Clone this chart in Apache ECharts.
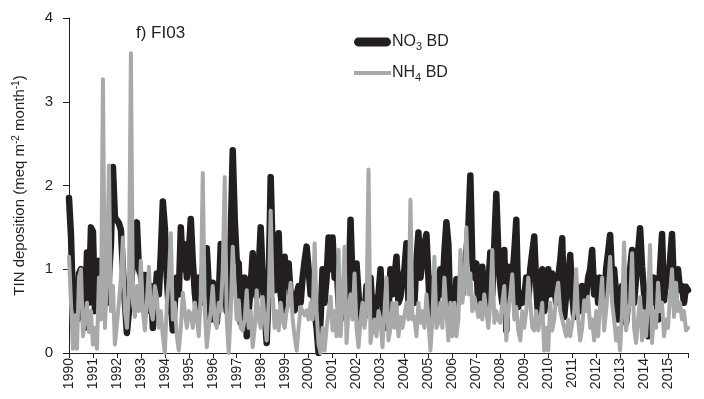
<!DOCTYPE html>
<html>
<head>
<meta charset="utf-8">
<script src="https://cdn.jsdelivr.net/npm/echarts@6/dist/echarts.min.js"></script>
<style>
  html, body { margin: 0; padding: 0; background: #fff; }
  #chart { width: 704px; height: 399px; }
</style>
</head>
<body>
<div id="chart"></div>
<script>
// Monthly TIN bulk deposition at FI03, Jan 1990 – Nov 2015 (meq m-2 month-1)
const startYear = 1990;
const yearLabels = ['1990','1991','1992','1993','1994','1995','1996','1997','1998','1999','2000','2001','2002',
  '2003','2004','2005','2006','2007','2008','2009','2010','2011','2012','2013','2014','2015'];

const no3BD = [
  1.85, 1.4, 0.55, 0.8, 0.4, 0.95, 1.0, 0.45, 0.3, 1.2, 0.6, 1.5,      // 1990
  1.45, 0.5, 0.6, 1.1, 0.5, 0.8, 1.3, 0.6, 0.9, 1.3, 2.22, 1.62,       // 1991
  1.6, 1.55, 1.47, 1.0, 0.6, 0.24, 0.5, 0.8, 1.1, 1.4, 1.56, 1.0,      // 1992
  0.93, 0.6, 0.93, 0.5, 0.6, 0.8, 0.3, 0.6, 0.95, 0.7, 1.2, 1.81,      // 1993
  1.5, 0.9, 0.5, 0.6, 0.27, 0.6, 0.9, 0.7, 1.5, 1.0, 1.3, 0.9,         // 1994
  1.2, 1.6, 1.1, 0.72, 0.5, 0.9, 0.6, 1.0, 0.7, 1.25, 0.8, 0.4,        // 1995
  0.84, 0.5, 0.36, 0.67, 1.3, 0.6, 0.8, 0.5, 1.0, 1.4, 2.42, 1.6,      // 1996
  1.1, 1.07, 0.36, 0.6, 0.9, 0.2, 0.5, 0.8, 1.19, 0.8, 0.67, 1.0,      // 1997
  1.5, 0.9, 0.5, 0.12, 0.8, 2.1, 1.2, 0.75, 1.0, 1.43, 0.7, 0.5,       // 1998
  1.15, 0.8, 1.07, 0.7, 0.6, 0.51, 0.7, 0.8, 0.6, 0.9, 1.1, 1.27,      // 1999
  1.0, 0.7, 0.84, 0.5, 0.3, 0.0, 0.4, 1.0, 0.6, 0.9, 1.38, 1.0,        // 2000
  1.38, 0.9, 1.07, 0.6, 0.4, 0.8, 0.6, 1.0, 0.7, 1.59, 0.84, 0.6,      // 2001
  1.07, 0.7, 0.36, 0.5, 0.43, 0.8, 0.6, 0.9, 0.5, 0.27, 0.6, 0.7,      // 2002
  1.0, 0.6, 0.3, 0.8, 0.5, 1.0, 0.7, 0.9, 1.15, 0.6, 0.67, 0.9,        // 2003
  1.0, 1.31, 0.6, 0.7, 1.0, 0.6, 1.1, 1.44, 0.9, 1.1, 1.3, 1.42,       // 2004
  0.9, 0.36, 0.6, 0.9, 0.5, 0.84, 1.0, 0.7, 1.2, 1.56, 1.3, 0.43,      // 2005
  0.6, 0.4, 0.88, 0.6, 0.9, 0.7, 1.0, 1.2, 1.5, 2.12, 1.07, 0.9,       // 2006
  1.07, 0.55, 0.7, 1.03, 0.6, 0.51, 0.8, 1.2, 0.7, 1.3, 1.9, 1.2,      // 2007
  0.8, 0.6, 1.23, 0.27, 1.03, 0.7, 0.9, 1.2, 1.59, 0.55, 0.72, 0.6,    // 2008
  0.67, 0.9, 0.6, 1.0, 1.2, 1.39, 0.8, 0.4, 0.9, 1.0, 0.5, 0.7,        // 2009
  1.0, 0.7, 0.95, 0.8, 0.6, 0.9, 1.1, 1.37, 0.43, 0.7, 0.9, 1.17,      // 2010
  0.7, 0.43, 0.8, 0.6, 0.5, 0.8, 0.7, 0.67, 0.9, 1.0, 1.23, 0.7,       // 2011
  0.9, 0.6, 0.9, 0.8, 0.5, 1.0, 1.2, 1.41, 0.9, 1.0, 0.7, 0.4,         // 2012
  0.6, 0.8, 0.8, 0.36, 0.6, 1.0, 1.23, 0.6, 0.9, 1.2, 1.49, 1.03,      // 2013
  0.72, 0.5, 0.2, 0.7, 0.6, 0.9, 0.7, 0.4, 1.0, 1.42, 0.63, 0.9,       // 2014
  0.8, 1.1, 1.42, 0.75, 0.9, 1.0, 0.75, 0.8, 0.6, 0.79, 0.75           // 2015
];

const nh4BD = [
  1.15, 0.6, 0.05, 0.45, 0.05, 0.9, 1.0, 0.2, 0.4, 0.6, 0.25, 0.5,     // 1990
  0.1, 0.3, 0.05, 0.9, 0.4, 3.27, 0.3, 0.9, 2.24, 0.5, 0.8, 0.1,       // 1991
  0.1, 0.6, 0.9, 1.38, 0.5, 0.3, 0.7, 3.58, 0.6, 0.43, 0.8, 0.5,       // 1992
  1.1, 0.5, 0.27, 0.6, 1.03, 0.5, 0.4, 0.8, 0.67, 0.3, 0.5, 0.2,       // 1993
  0.0, 0.6, 0.9, 1.43, 0.4, 0.6, 0.2, 0.03, 0.3, 0.72, 0.5, 0.3,       // 1994
  0.5, 0.47, 0.3, 0.6, 0.43, 0.2, 0.7, 2.15, 0.5, 0.07, 0.3, 0.5,      // 1995
  0.8, 0.4, 0.3, 0.6, 0.5, 1.0, 2.1, 0.4, 0.0, 0.5, 1.27, 0.8,         // 1996
  0.4, 0.63, 0.3, 0.27, 0.4, 0.75, 0.3, 0.5, 0.07, 0.3, 0.75, 0.4,     // 1997
  0.3, 0.67, 0.4, 0.15, 0.6, 1.7, 0.7, 0.3, 0.5, 0.27, 0.6, 0.4,       // 1998
  0.3, 0.5, 0.6, 0.84, 0.4, 0.2, 0.03, 0.3, 0.55, 0.5, 0.45, 0.51,     // 1999
  0.4, 0.6, 0.4, 1.31, 0.5, 0.1, 0.0, 0.3, 0.03, 0.3, 0.5, 0.67,       // 2000
  0.27, 0.5, 0.2, 1.23, 0.2, 0.6, 1.27, 0.12, 0.5, 0.7, 0.4, 0.95,     // 2001
  0.3, 0.07, 0.4, 0.6, 0.3, 0.5, 2.19, 0.12, 0.3, 0.4, 0.2, 0.5,       // 2002
  0.4, 0.07, 0.5, 0.9, 0.15, 0.3, 0.6, 0.3, 0.6, 0.2, 0.43, 0.3,       // 2003
  0.3, 0.6, 0.4, 1.83, 0.4, 0.43, 0.2, 0.6, 0.36, 0.5, 0.3, 0.7,       // 2004
  0.4, 0.03, 0.4, 1.15, 0.3, 0.36, 0.6, 0.3, 0.9, 0.5, 0.15, 0.6,      // 2005
  0.2, 0.6, 0.2, 0.4, 1.23, 0.6, 0.8, 1.5, 0.7, 0.95, 0.5, 0.67,       // 2006
  0.67, 0.43, 0.6, 0.4, 0.7, 0.5, 0.3, 0.6, 1.23, 0.36, 0.5, 0.4,      // 2007
  0.36, 0.6, 0.8, 0.15, 0.5, 0.7, 0.94, 0.4, 0.55, 0.27, 0.15, 0.5,    // 2008
  0.3, 0.5, 0.9, 0.6, 0.3, 0.27, 0.5, 0.27, 0.4, 0.6, 0.03, 0.3,       // 2009
  0.03, 0.6, 0.27, 0.4, 0.7, 0.84, 0.5, 0.51, 0.3, 0.2, 0.4, 0.2,      // 2010
  0.2, 0.5, 1.0, 0.4, 0.15, 0.3, 0.63, 0.5, 0.67, 0.3, 0.4, 0.15,      // 2011
  0.5, 0.2, 0.6, 0.9, 0.27, 0.5, 0.8, 1.15, 0.6, 0.4, 0.15, 0.3,       // 2012
  0.03, 0.5, 1.32, 0.27, 0.5, 0.6, 1.19, 0.3, 0.12, 0.4, 0.67, 0.15,   // 2013
  0.5, 0.2, 0.6, 1.29, 0.12, 0.5, 0.3, 0.84, 0.5, 0.6, 0.2, 0.4,       // 2014
  0.3, 0.7, 1.0, 0.43, 0.84, 0.5, 0.6, 0.4, 0.5, 0.27, 0.3             // 2015
];

const yTicks = [0, 1, 2, 3, 4];

// one category per month, labelled by year at each January
const months = no3BD.map((_, i) => {
  const y = startYear + Math.floor(i / 12);
  const m = (i % 12) + 1;
  return y + '-' + (m < 10 ? '0' + m : m);
});
const lastMonth = months.length - 1;

const ink = '#231f20';
const font = 'Liberation Sans, Arial, sans-serif';

const chart = echarts.init(document.getElementById('chart'), null, { renderer: 'canvas' });
chart.setOption({
  animation: false,
  backgroundColor: '#ffffff',
  title: {
    text: 'f) FI03',
    left: 136, top: 25, padding: 0,
    textStyle: { fontFamily: font, fontSize: 17, fontWeight: 'normal', color: ink }
  },
  legend: {
    orient: 'vertical',
    left: 354, top: 32, padding: 0,
    itemWidth: 37, itemHeight: 9, itemGap: 11,
    data: [
      { name: 'NO3 BD', icon: 'path://M4,0 H33 A4.5,4.5 0 0 1 33,9 H4 A4.5,4.5 0 0 1 4,0 Z' },
      { name: 'NH4 BD', icon: 'path://M0,2.5 H37 V6.5 H0 Z M0,0 H0.01 V9 H0 Z' }
    ],
    formatter: n => n === 'NO3 BD' ? 'NO{s|3} BD' : 'NH{s|4} BD',
    textStyle: {
      fontFamily: font, fontSize: 16, color: ink, lineHeight: 20, padding: [0, 0, 0, -4],
      rich: { s: { fontFamily: font, fontSize: 11, color: ink, verticalAlign: 'bottom', lineHeight: 20, padding: [6, 0, 0, 0] } }
    }
  },
  grid: { left: 69, right: 16, top: 18, bottom: 46, containLabel: false },
  xAxis: {
    type: 'category',
    data: months,
    boundaryGap: false,
    axisLine: { lineStyle: { color: ink, width: 1 } },
    axisTick: { interval: (i) => i % 12 === 0 || i === lastMonth, length: 5, lineStyle: { color: ink } },
    axisLabel: {
      interval: (i) => i % 12 === 0,
      rotate: 90,
      margin: 5,
      fontFamily: font, fontSize: 14, color: ink,
      formatter: (v) => yearLabels[yearLabels.indexOf(v.slice(0, 4))]
    },
    splitLine: { show: false }
  },
  yAxis: {
    type: 'value',
    min: yTicks[0], max: yTicks[yTicks.length - 1], interval: 1,
    axisLine: { show: true, lineStyle: { color: ink, width: 1 } },
    axisTick: { show: true, length: 6, lineStyle: { color: ink } },
    axisLabel: { fontFamily: font, fontSize: 15, color: ink, margin: 16 },
    splitLine: { show: false },
    name: 'TIN deposition (meq m{p|-2} month{p|-1})',
    nameLocation: 'middle',
    nameGap: 40,
    nameTextStyle: {
      fontFamily: font, fontSize: 15, color: ink, lineHeight: 18,
      rich: { p: { fontFamily: font, fontSize: 10, color: ink, verticalAlign: 'top', lineHeight: 18 } }
    }
  },
  series: [
    {
      name: 'NO3 BD', type: 'line', data: no3BD,
      symbol: 'none', color: ink,
      lineStyle: { color: ink, width: 6.5, join: 'round', cap: 'round' },
      z: 2
    },
    {
      name: 'NH4 BD', type: 'line', data: nh4BD,
      symbol: 'none', color: '#a8a9ab',
      lineStyle: { color: '#a8a9ab', width: 4, join: 'round', cap: 'round' },
      z: 3
    }
  ]
});
</script>
</body>
</html>
